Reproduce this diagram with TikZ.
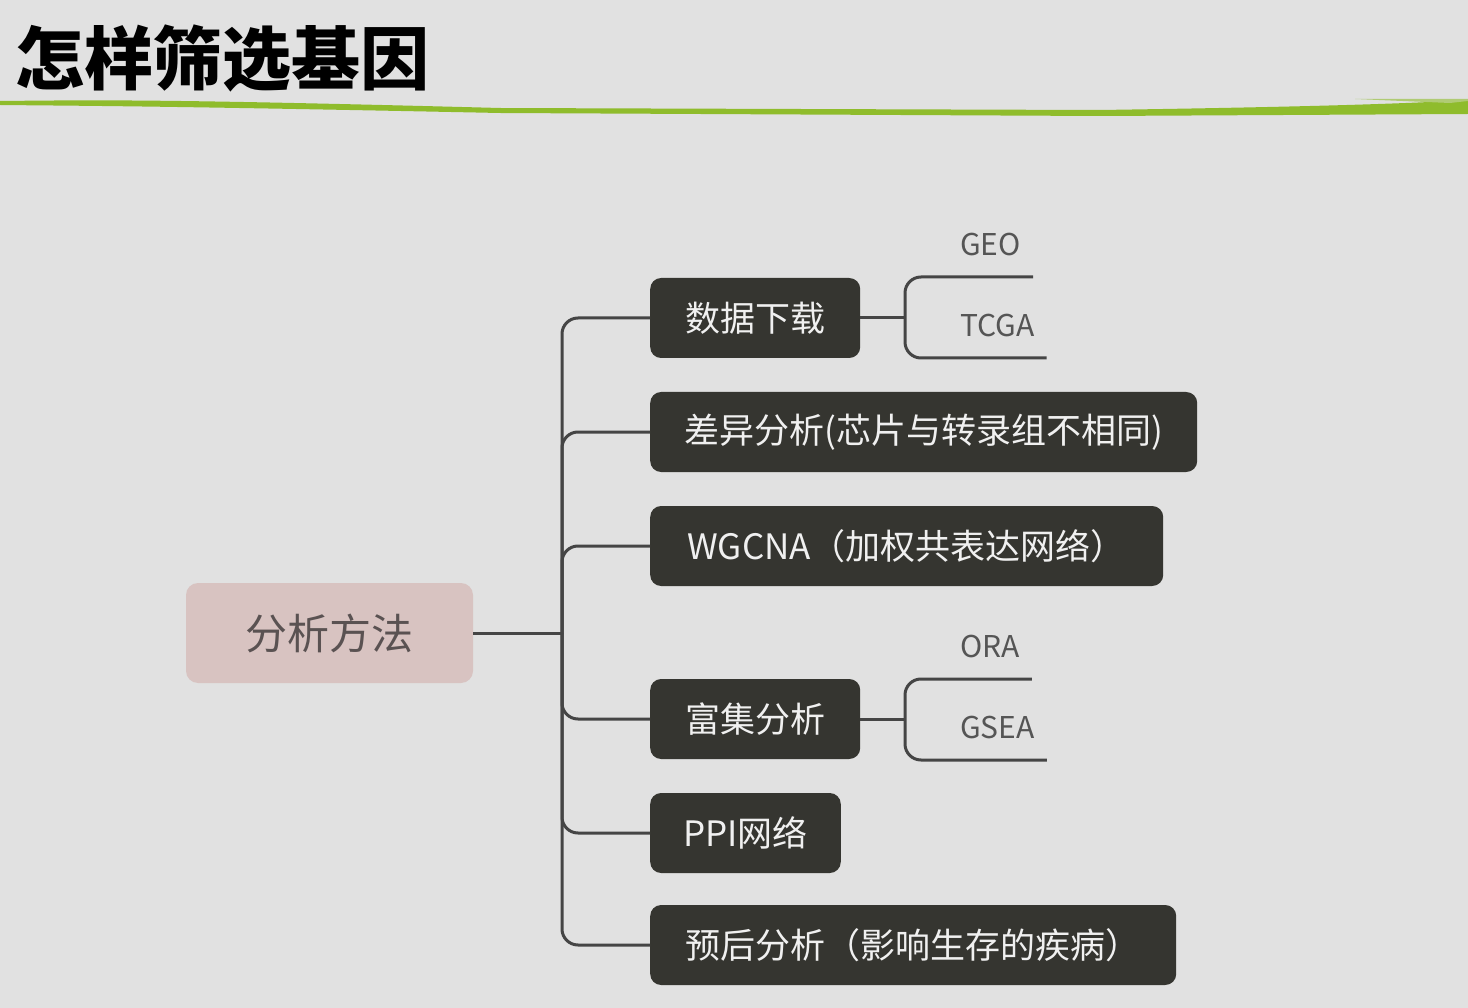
\documentclass[tikz,border=0pt]{standalone}
\usepackage{fontspec}
\newfontfamily\cjk{Noto Sans CJK SC}
\definecolor{bg}{HTML}{E1E1E1}
\definecolor{lime}{HTML}{8FBC2C}
\definecolor{darkbox}{HTML}{353530}
\definecolor{pinkbox}{HTML}{D8C3C1}
\definecolor{linec}{HTML}{454545}
\definecolor{leaftext}{HTML}{555555}
\definecolor{roottext}{HTML}{5A5252}
\tikzset{
  rootbox/.style={fill=pinkbox, rounded corners=12pt, minimum width=287pt, minimum height=100pt,
    inner sep=0pt, text=roottext, font=\cjk\fontsize{42pt}{48pt}\selectfont},
  topicbox/.style={fill=darkbox, rounded corners=11pt, minimum height=80pt, inner xsep=33pt,
    inner ysep=0pt, anchor=west, text=white!94!black, font=\cjk\fontsize{35pt}{40pt}\selectfont},
  leafbox/.style={inner xsep=12pt, inner ysep=0pt, text height=24pt, text depth=21pt,
    anchor=south west, text=leaftext, font=\cjk\fontsize{30pt}{34pt}\selectfont},
  conn/.style={draw=linec, line width=3pt, rounded corners=16pt},
}
\begin{document}
\begin{tikzpicture}[x=1pt,y=-1pt]
\fill[bg] (0,0) rectangle (1468,1008);
\useasboundingbox (0,0) rectangle (1468,1008);
% title
\node[anchor=base west, inner sep=0pt, font=\cjk\bfseries\fontsize{69pt}{72pt}\selectfont] (title) at (15,85) {怎样筛选基因};
% green rule
\fill[lime] (0,101) .. controls (100,100) and (160,99) .. (500,108)
  -- (1100,110) .. controls (1300,107) and (1400,104) .. (1468,100)
  -- (1468,114) -- (1100,116) -- (500,113)
  .. controls (160,106) and (100,106) .. (0,105) -- cycle;
\fill[lime!60!bg] (1355,99) -- (1468,99) -- (1468,101) -- (1450,103) -- cycle;
% root
\node[rootbox] (root) at (329.5,633) {分析方法};
\coordinate (rj) at (562,633);
% topics
\node[topicbox, minimum width=210pt] (n1) at (650,318) {数据下载};
\node[topicbox, minimum width=547pt] (n2) at (650,432) {差异分析(芯片与转录组不相同)};
\node[topicbox, minimum width=513pt] (n3) at (650,546) {WGCNA（加权共表达网络）};
\node[topicbox, minimum width=210pt] (n4) at (650,719) {富集分析};
\node[topicbox, minimum width=188pt] (n5) at (650,833) {PPI网络};
\node[topicbox, minimum width=526pt] (n6) at (650,945) {预后分析（影响生存的疾病）};
% leaves
\node[leafbox] (geo) at (948,277) {GEO};
\node[leafbox] (tcga) at (948,358) {TCGA};
\node[leafbox] (ora) at (948,679) {ORA};
\node[leafbox] (gsea) at (948,760) {GSEA};
\coordinate (b1) at (905,318);
\coordinate (b2) at (905,719);
% connectors
\draw[conn] (root.east) -- (rj);
\foreach \n in {n1,n2,n3,n4,n5,n6}{
  \draw[conn] (rj) |- (\n.west);
}
\draw[conn] (n1.east) -- (b1);
\draw[conn] (geo.south east) -- (geo.south east -| b1) -- (tcga.south east -| b1) -- (tcga.south east);
\draw[conn] (n4.east) -- (b2);
\draw[conn] (ora.south east) -- (ora.south east -| b2) -- (gsea.south east -| b2) -- (gsea.south east);
\end{tikzpicture}
\end{document}
